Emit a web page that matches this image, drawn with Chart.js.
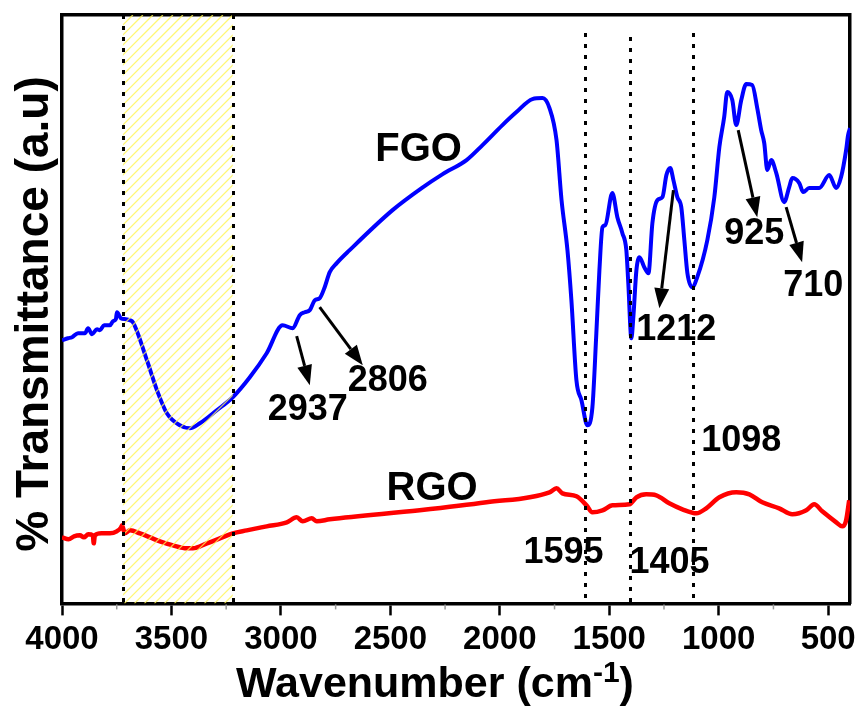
<!DOCTYPE html>
<html><head><meta charset="utf-8">
<script src="https://cdn.jsdelivr.net/npm/chart.js@4/dist/chart.umd.min.js"></script>
<style>html,body{margin:0;padding:0;background:#fff}#wrap{width:861px;height:706px;position:relative}</style>
</head><body><div id="wrap"><canvas id="c"></canvas></div>
<script>
const FONT = '"Liberation Sans", Arial, Helvetica, sans-serif';

// FGO spectrum (wavenumber cm-1, transmittance a.u.)
const fgoWavenumber = [4000,3973,3954,3927,3895,3881,3863,3840,3827,3808,3781,3767,3754,3749,3731,3708,3690,3676,3612,3566,3521,3462,3416,3370,3293,3220,3142,3065,2992,2946,2914,2891,2868,2845,2823,2800,2777,2745,2686,2490,2357,2261,2152,2079,1988,1924,1851,1805,1773,1741,1718,1691,1673,1650,1627,1600,1577,1559,1545,1531,1518,1486,1463,1440,1422,1413,1399,1390,1376,1362,1340,1321,1303,1280,1257,1239,1221,1207,1189,1171,1157,1143,1121,1098,1052,1020,997,975,961,938,920,897,874,847,824,806,792,778,760,737,701,678,664,632,614,587,541,495,463,441,418,409,400];
const fgoValue      = [263,265,266,270,270,275,269,274,273,278,278,282,284,291,285,284,283,281,243,213,190,178,175,180,193,206,226,250,278,275,288,291,293,303,305,316,331,340,353,393,415,429,443,458,478,491,504,505,495,463,403,353,303,223,203,178,196,270,333,376,378,410,386,370,353,320,265,286,333,346,336,330,380,403,406,428,435,423,406,396,363,330,316,326,363,406,456,486,511,503,478,503,519,518,495,473,460,433,443,430,401,416,425,420,411,415,415,428,415,426,453,468,475];

// RGO spectrum
const rgoWavenumber = [4000,3970,3945,3918,3900,3880,3859,3855,3850,3820,3781,3750,3730,3726,3713,3690,3644,3598,3553,3493,3430,3402,3338,3279,3220,3156,3065,2973,2928,2900,2859,2836,2777,2366,2061,1773,1741,1714,1650,1604,1577,1531,1486,1408,1376,1331,1285,1226,1166,1102,1057,997,920,860,801,724,664,600,564,527,463,436,418,404];
const rgoValue      = [66,64,67,68,66,69,68,60,68,70,70,72,76,78,70,73,70,66,62,58,55,55,60,65,70,73,77,81,86,82,85,82,84,93,101,111,115,110,107,98,91,93,98,99,106,109,108,100,94,90,95,106,111,109,101,95,89,93,99,92,81,77,83,103];

// Axis ticks
const xTickValues = [4000,3500,3000,2500,2000,1500,1000,500];
const xMinorTicks = [3750,3250,2750,2250,1750,1250,750];

// Dotted marker lines and hatched band
const markerLines = [3722,3220,1609,1403,1116];
const markerTops  = [588,588,570,566,570];
const bandRange   = [3722,3220];

// Peak labels
const labelTexts = ['FGO','RGO','2937','2806','1212','925','710','1098','1595','1405'];
const labelX     = [2371,2309,2877,2512,1194,838,568,897,1709,1225];
const labelY     = [453,114,193,222,273,369,317,162,50,40];

// Arrows (from -> to)
const arrowFromX = [2928,2823,1207,911,692];
const arrowFromY = [267,296,413,473,396];
const arrowToX   = [2868,2626,1271,824,619];
const arrowToY   = [218,238,295,386,341];

const toPts = (xs, ys) => xs.map((x, i) => ({x: x, y: ys[i]}));

const overlay = {
  id: 'overlay',
  afterDatasetsDraw(chart) {
    const {ctx, chartArea: a, scales: {x, y}} = chart;
    // hatched band
    const x1 = x.getPixelForValue(bandRange[0]), x2 = x.getPixelForValue(bandRange[1]);
    ctx.save();
    ctx.beginPath(); ctx.rect(x1, a.top, x2 - x1, a.bottom - a.top); ctx.clip();
    ctx.strokeStyle = 'rgba(255,245,80,0.8)'; ctx.lineWidth = 1.3;
    const h = a.bottom - a.top;
    for (let s = x1 - h; s < x2 + 10; s += 10) {
      ctx.beginPath(); ctx.moveTo(s, a.bottom); ctx.lineTo(s + h, a.top); ctx.stroke();
    }
    ctx.restore();
    // dotted lines
    ctx.save();
    ctx.strokeStyle = '#000'; ctx.lineWidth = 3; ctx.setLineDash([4, 7]);
    markerLines.forEach((v, i) => {
      const px = Math.round(x.getPixelForValue(v)) + 0.5;
      ctx.beginPath(); ctx.moveTo(px, y.getPixelForValue(markerTops[i])); ctx.lineTo(px, a.bottom); ctx.stroke();
    });
    ctx.restore();
    // arrows
    ctx.save();
    ctx.strokeStyle = '#000'; ctx.fillStyle = '#000'; ctx.lineWidth = 3;
    arrowFromX.forEach((v, i) => {
      const fx = x.getPixelForValue(v), fy = y.getPixelForValue(arrowFromY[i]);
      const tx = x.getPixelForValue(arrowToX[i]), ty = y.getPixelForValue(arrowToY[i]);
      const ang = Math.atan2(ty - fy, tx - fx);
      const hl = 20, hw = 7.5;
      const bx = tx - hl * Math.cos(ang), by = ty - hl * Math.sin(ang);
      ctx.beginPath(); ctx.moveTo(fx, fy); ctx.lineTo(bx, by); ctx.stroke();
      ctx.beginPath();
      ctx.moveTo(tx, ty);
      ctx.lineTo(bx + hw * Math.sin(ang), by - hw * Math.cos(ang));
      ctx.lineTo(bx - hw * Math.sin(ang), by + hw * Math.cos(ang));
      ctx.closePath(); ctx.fill();
    });
    ctx.restore();
    // labels
    ctx.save();
    ctx.fillStyle = '#000'; ctx.textAlign = 'center'; ctx.textBaseline = 'middle';
    labelTexts.forEach((t, i) => {
      const big = (t === 'FGO' || t === 'RGO');
      ctx.font = 'bold ' + (big ? 40 : 36) + 'px ' + FONT;
      ctx.fillText(t, x.getPixelForValue(labelX[i]), y.getPixelForValue(labelY[i]));
    });
    ctx.restore();
  },
  afterDraw(chart) {
    const {ctx, chartArea: a, scales: {x}} = chart;
    // minor ticks
    ctx.save();
    ctx.strokeStyle = '#999'; ctx.lineWidth = 1.5;
    xMinorTicks.forEach(v => {
      const px = x.getPixelForValue(v);
      ctx.beginPath(); ctx.moveTo(px, a.bottom + 1); ctx.lineTo(px, a.bottom + 6); ctx.stroke();
    });
    ctx.restore();
    // x title with superscript
    ctx.save();
    ctx.fillStyle = '#000'; ctx.textBaseline = 'alphabetic'; ctx.textAlign = 'left';
    const t1 = 'Wavenumber (cm', t2 = '-1', t3 = ')';
    ctx.font = 'bold 43px ' + FONT; const w1 = ctx.measureText(t1).width, w3 = ctx.measureText(t3).width;
    ctx.font = 'bold 30px ' + FONT; const w2 = ctx.measureText(t2).width;
    let sx = 435 - (w1 + w2 + w3) / 2;
    ctx.font = 'bold 43px ' + FONT; ctx.fillText(t1, sx, 697); sx += w1;
    ctx.font = 'bold 30px ' + FONT; ctx.fillText(t2, sx, 682); sx += w2;
    ctx.font = 'bold 43px ' + FONT; ctx.fillText(t3, sx, 697);
    ctx.restore();
    // y title
    ctx.save();
    ctx.translate(48, 314); ctx.rotate(-Math.PI / 2);
    ctx.fillStyle = '#000'; ctx.textAlign = 'center'; ctx.textBaseline = 'alphabetic';
    ctx.font = 'bold 46px ' + FONT;
    ctx.fillText('% Transmittance (a.u)', 0, 0);
    ctx.restore();
  }
};

const hiddenAxis = (pos, horiz) => ({
  type: 'linear', position: pos, display: true,
  min: horiz ? 400 : 0, max: horiz ? 4000 : 588, reverse: horiz,
  ticks: {display: false}, grid: {display: false, drawTicks: false, tickLength: 0},
  border: {display: true, color: '#000', width: 3.5}
});

new Chart(document.getElementById('c'), {
  type: 'line',
  data: {
    datasets: [
      {label: 'FGO', data: toPts(fgoWavenumber, fgoValue), borderColor: '#0000ff', borderWidth: 4,
       pointRadius: 0, cubicInterpolationMode: 'monotone', fill: false, xAxisID: 'x', yAxisID: 'y'},
      {label: 'RGO', data: toPts(rgoWavenumber, rgoValue), borderColor: '#ff0000', borderWidth: 4.5,
       pointRadius: 0, cubicInterpolationMode: 'monotone', fill: false, xAxisID: 'x', yAxisID: 'y'}
    ]
  },
  options: {
    responsive: true, maintainAspectRatio: false, animation: false,
    layout: {padding: {left: 62, top: 15, right: 10, bottom: 41}},
    plugins: {legend: {display: false}, tooltip: {enabled: false}},
    scales: {
      x: {
        type: 'linear', position: 'bottom', reverse: true, min: 400, max: 4000,
        afterBuildTicks: s => { s.ticks = xTickValues.map(v => ({value: v})); },
        ticks: {font: {family: FONT, size: 33, weight: 'bold'}, color: '#000', padding: 5,
                maxRotation: 0, autoSkip: false, callback: v => String(v)},
        grid: {drawOnChartArea: false, drawTicks: true, tickLength: 12, tickColor: '#000', tickWidth: 2.5},
        border: {display: true, color: '#000', width: 3.5}
      },
      y: hiddenAxis('left', false),
      x2: hiddenAxis('top', true),
      y2: hiddenAxis('right', false)
    }
  },
  plugins: [overlay]
});
</script>
</body></html>
